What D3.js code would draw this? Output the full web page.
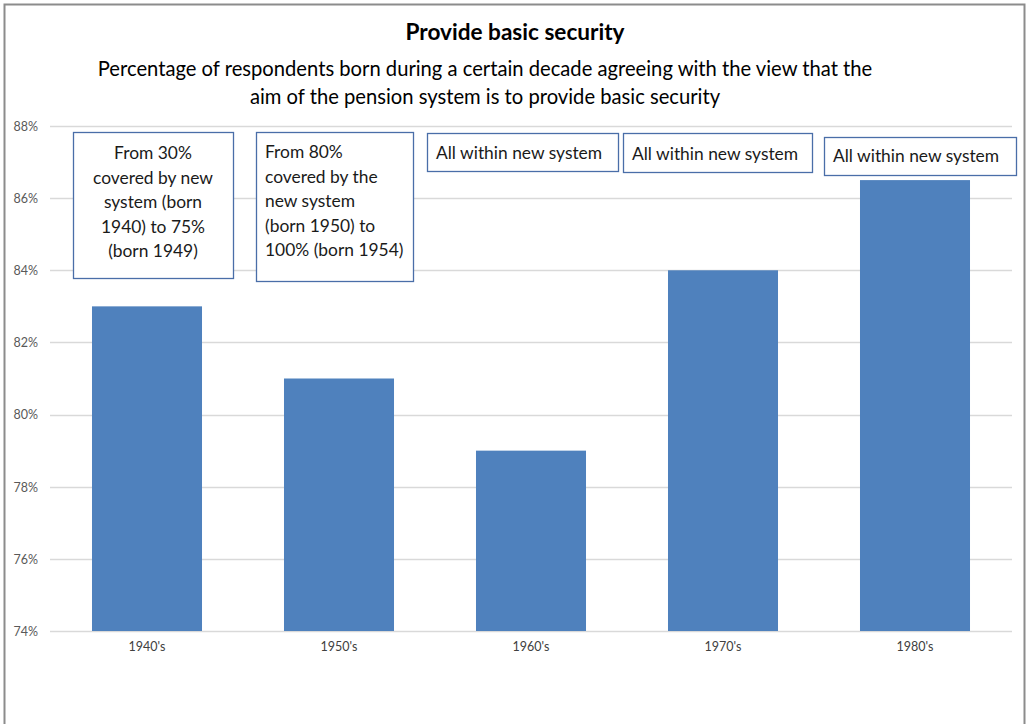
<!DOCTYPE html>
<html>
<head>
<meta charset="utf-8">
<script src="https://cdn.jsdelivr.net/npm/d3@7"></script>
<style>
  html, body { margin: 0; padding: 0; background: #fff; }
  svg { display: block; }
  text { font-family: Lato, "Open Sans", sans-serif; }
</style>
</head>
<body>
<svg id="chart" width="1031" height="724"></svg>
<script>
// Data
const decades = ["1940's", "1950's", "1960's", "1970's", "1980's"];
const agreeShare = [83, 81, 79, 84, 86.5];
const yTicks = [74, 76, 78, 80, 82, 84, 86, 88];

// Notes shown above each cohort
const noteLines = [
  ["From 30%", "covered by new", "system (born", "1940) to 75%", "(born 1949)"],
  ["From 80%", "covered by the", "new system", "(born 1950) to", "100% (born 1954)"],
  ["All within new system"],
  ["All within new system"],
  ["All within new system"]
];

const titleText = "Provide basic security";
const subtitleLines = [
  "Percentage of respondents born during a certain decade agreeing with the view that the",
  "aim of the pension system is to provide basic security"
];

const svg = d3.select("#chart");
const W = 1031, H = 724;

// outer frame
svg.append("path")
  .attr("d", `M4.5,${H} V4.5 H1024.5 V${H}`)
  .attr("fill", "none")
  .attr("stroke", "#8c8c8c")
  .attr("stroke-width", 2);

const x = d3.scaleBand()
  .domain(decades)
  .range([51, 1011])
  .paddingInner(0.427)
  .paddingOuter(0.2135);

const y = d3.scaleLinear()
  .domain([74, 88])
  .range([631, 126]);

// gridlines
svg.append("g")
  .selectAll("line")
  .data(yTicks)
  .join("line")
  .attr("x1", 50)
  .attr("x2", 1012)
  .attr("y1", d => Math.round(y(d)) + 0.5)
  .attr("y2", d => Math.round(y(d)) + 0.5)
  .attr("stroke", "#d9d9d9")
  .attr("stroke-width", 1.5);

// y axis labels
const yAxis = d3.axisLeft(y)
  .tickValues(yTicks)
  .tickFormat(d => d + "%")
  .tickSize(0)
  .tickPadding(0);
const gy = svg.append("g").attr("transform", "translate(38,0)").call(yAxis);
gy.select(".domain").remove();
gy.selectAll("text")
  .attr("font-family", "Lato, sans-serif")
  .attr("font-size", 12.5)
  .attr("fill", "#595959")
  .attr("dy", "0.35em");

// bars
svg.append("g")
  .selectAll("rect")
  .data(decades)
  .join("rect")
  .attr("x", d => x(d))
  .attr("width", x.bandwidth())
  .attr("y", (d, i) => y(agreeShare[i]))
  .attr("height", (d, i) => y(74) - y(agreeShare[i]))
  .attr("fill", "#4f81bd");

// x axis labels
const xAxis = d3.axisBottom(x).tickSize(0).tickPadding(0);
const gx = svg.append("g").attr("transform", "translate(0,642)").call(xAxis);
gx.select(".domain").remove();
gx.selectAll("text")
  .attr("font-family", "Lato, sans-serif")
  .attr("font-size", 12.5)
  .attr("fill", "#404040");

// titles
svg.append("text")
  .attr("x", 515)
  .attr("y", 40)
  .attr("text-anchor", "middle")
  .attr("font-size", 22.6)
  .attr("font-weight", "bold")
  .attr("fill", "#000")
  .text(titleText);

svg.append("g")
  .selectAll("text")
  .data(subtitleLines)
  .join("text")
  .attr("x", 485)
  .attr("y", (d, i) => 76 + i * 28)
  .attr("text-anchor", "middle")
  .attr("font-size", 20.2)
  .attr("fill", "#000")
  .text(d => d);

// note boxes: position, size, alignment, first baseline and line step
const boxLayout = [
  { left: 73, top: 132, w: 160, h: 146, align: "middle", first: 159, step: 24.5 },
  { left: 256, top: 132, w: 157, h: 149, align: "start", first: 158, step: 24.5 },
  { left: 427, top: 133, w: 191, h: 38, align: "start", first: 159, step: 0 },
  { left: 623, top: 133, w: 189, h: 39, align: "start", first: 160, step: 0 },
  { left: 824, top: 137, w: 192, h: 38, align: "start", first: 162, step: 0 }
];

const notes = svg.append("g")
  .selectAll("g")
  .data(noteLines)
  .join("g");

notes.append("rect")
  .attr("x", (d, i) => boxLayout[i].left + 0.5)
  .attr("y", (d, i) => boxLayout[i].top + 0.5)
  .attr("width", (d, i) => boxLayout[i].w)
  .attr("height", (d, i) => boxLayout[i].h)
  .attr("fill", "#fff")
  .attr("stroke", "#4a6ea8")
  .attr("stroke-width", 1.3);

notes.each(function (lines, i) {
  const b = boxLayout[i];
  const tx = b.align === "middle" ? b.left + b.w / 2 : b.left + 9;
  d3.select(this).selectAll("text")
    .data(lines)
    .join("text")
    .attr("x", tx)
    .attr("y", (d, j) => b.first + j * b.step)
    .attr("text-anchor", b.align)
    .attr("font-size", 17.4)
    .attr("fill", "#1a1a1a")
    .text(d => d);
});
</script>
</body>
</html>
